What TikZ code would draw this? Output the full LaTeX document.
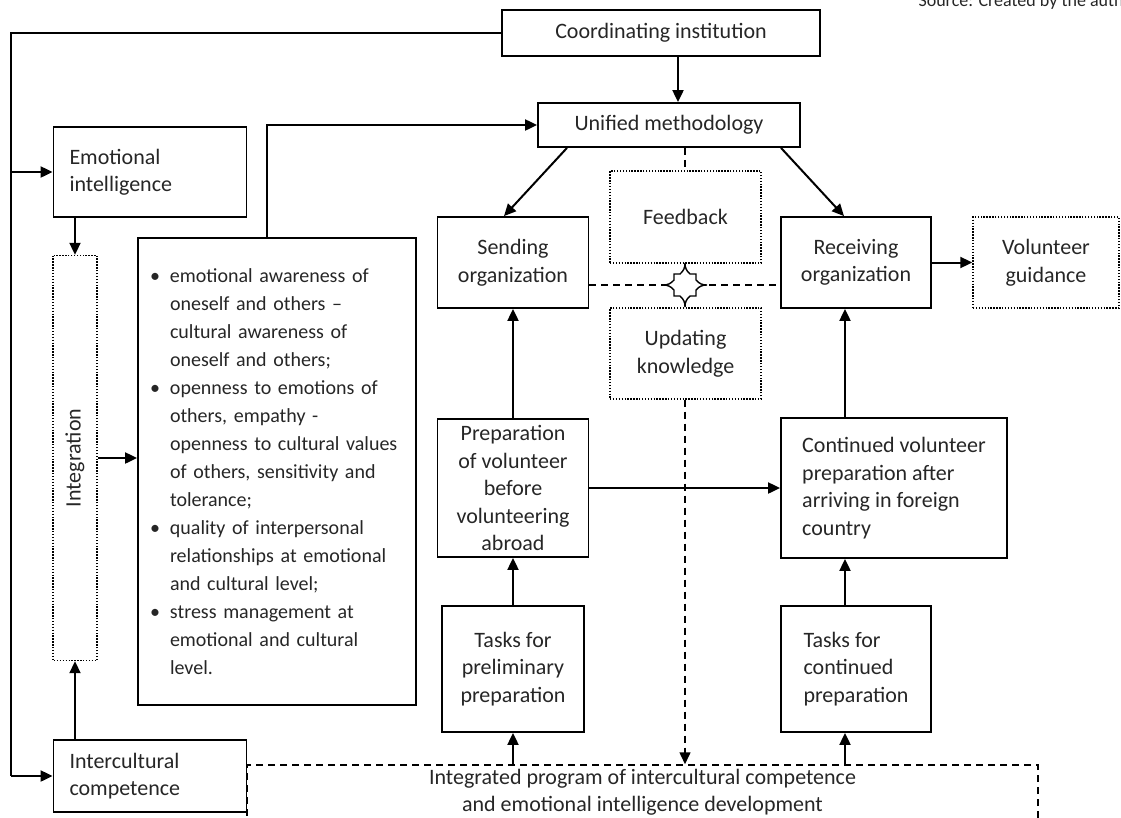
\documentclass[tikz,border=0pt]{standalone}
\usepackage{fontspec}
\setmainfont{Carlito}
\usepackage{tikz}
\usetikzlibrary{positioning,arrows.meta}

\newcommand{\trait}[1]{\par\hangindent=23pt\hangafter=1\noindent\makebox[23pt][l]{\hspace{3pt}\textbullet}#1\par}

\begin{document}
\begin{tikzpicture}[x=1pt,y=-1pt,
    box/.style={draw,line width=1.8pt,align=center,inner sep=0pt},
    dotbox/.style={draw,line width=1.4pt,dash pattern=on 1.4pt off 1.5pt,align=center,inner sep=0pt},
    arr/.style={line width=2pt,-{Triangle[length=12pt,width=11pt]}},
    dsh/.style={line width=1.5pt,dash pattern=on 7pt off 5pt},
    font=\fontsize{22}{27.5}\selectfont,text=black!85]

  \useasboundingbox (0,0) rectangle (1121,817);
  \clip (0,0) rectangle (1121,817);

  \node[anchor=base west,font=\fontsize{18}{20}\selectfont] (src) at (915,6) {Source: Created by the author};

  \node[box,minimum width=318,minimum height=46] (coord) at (661,33) {Coordinating institution};
  \node[box,minimum width=262,minimum height=44] (unified) at (669,125) {Unified methodology};

  \node[box,minimum width=193,minimum height=90,text width=161,align=left] (emo) at (150,172) {Emotional\\intelligence};
  \node[dotbox,rotate=90,minimum width=405,minimum height=44] (integ) at (75,458) {Integration};
  \node[box,minimum width=193,minimum height=72,text width=161,align=left] (intc) at (150,776) {Intercultural\\competence};
  \node[box,minimum width=278,minimum height=467,text width=260,align=left,font=\fontsize{20}{28}\selectfont] (traits) at (277,471.5) {%
    \trait{emotional awareness of\newline oneself and others --\newline cultural awareness of\newline oneself and others;}
    \trait{openness to emotions of\newline others, empathy -\newline openness to cultural values\newline of others, sensitivity and\newline tolerance;}
    \trait{quality of interpersonal\newline relationships at emotional\newline and cultural level;}
    \trait{stress management at\newline emotional and cultural\newline level.}\vspace{14pt}};

  \node[box,minimum width=151,minimum height=91] (send) at (513,262.5) {Sending\\organization};
  \node[box,minimum width=150,minimum height=91] (recv) at (856,262.5) {Receiving\\organization};
  \node[dotbox,minimum width=146,minimum height=91] (guide) at (1046,262.5) {Volunteer\\guidance};
  \node[dotbox,minimum width=151,minimum height=92] (feed) at (685.5,217) {Feedback};
  \node[dotbox,minimum width=151,minimum height=91] (upd) at (685.5,353.5) {Updating\\knowledge};

  \node[box,minimum width=151,minimum height=138] (prep) at (513,488) {Preparation\\of volunteer\\before\\volunteering\\abroad};
  \node[box,minimum width=226,minimum height=140,align=left] (cont) at (894,488) {Continued volunteer\\preparation after\\arriving in foreign\\country};
  \node[box,minimum width=142,minimum height=126] (taskp) at (513,669) {Tasks for\\preliminary\\preparation};
  \node[box,minimum width=150,minimum height=126,align=left] (taskc) at (856,669) {Tasks for\\continued\\preparation};

  \node[draw,dsh,minimum width=791,minimum height=54,align=center] (prog) at (642.5,792) {Integrated program of intercultural competence\\and emotional intelligence development};

  %left loop
  \draw[line width=2pt] (coord.west) -| ([xshift=-42]intc.west);
  \draw[arr] ([xshift=-42]emo.west) -- (emo.west);
  \draw[arr] ([xshift=-42]intc.west) -- (intc.west);

  %integration
  \draw[arr] (emo.south -| integ.east) -- (integ.east);
  \draw[arr] (intc.north -| integ.west) -- (integ.west);
  \draw[arr] (integ.south) -- (integ.south -| traits.west);
  \draw[arr] ([xshift=-10]traits.north) |- (unified.west);

  %top
  \draw[arr] ([xshift=17]coord.south) -- ([xshift=17]coord.south |- unified.north);
  \draw[arr] ([xshift=-102]unified.south) -- ([xshift=-9]send.north);
  \draw[arr] ([xshift=112]unified.south) -- ([xshift=-12]recv.north);

  %feedback
  \coordinate (fb) at (685,285);
  \draw[dsh] (unified.south -| fb) -- (feed.north -| fb);
  \draw[dsh] (send.east |- fb) -- (recv.west |- fb);
  \draw[line width=1.4pt,fill=white,shift={(fb)}] (-5,-11) to[bend right=25] (0,-22) to[bend right=25] (5,-11) -- (11,-11) -- (11,-5)
    to[bend right=25] (22,0) to[bend right=25] (11,5) -- (11,11) -- (5,11) to[bend right=25] (0,22) to[bend right=25] (-5,11)
    -- (-11,11) -- (-11,5) to[bend right=25] (-22,0) to[bend right=25] (-11,-5) -- (-11,-11) -- cycle;

  %middle
  \draw[arr] (recv.east) -- (guide.west);
  \draw[arr] (prep.north) -- (send.south);
  \draw[arr] ([xshift=-11]recv.south |- cont.north) -- ([xshift=-11]recv.south);
  \draw[arr] (prep.east) -- (cont.west);
  \draw[arr] (taskp.north) -- (prep.south);
  \draw[arr] ([xshift=-11]taskc.north) -- ([xshift=-11]taskc.north |- cont.south);

  %bottom
  \draw[arr] (prog.north -| taskp.south) -- (taskp.south);
  \draw[arr] ([xshift=-11]taskc.south |- prog.north) -- ([xshift=-11]taskc.south);
  \draw[arr,dsh] (upd.south -| fb) -- (prog.north -| fb);
\end{tikzpicture}
\end{document}
